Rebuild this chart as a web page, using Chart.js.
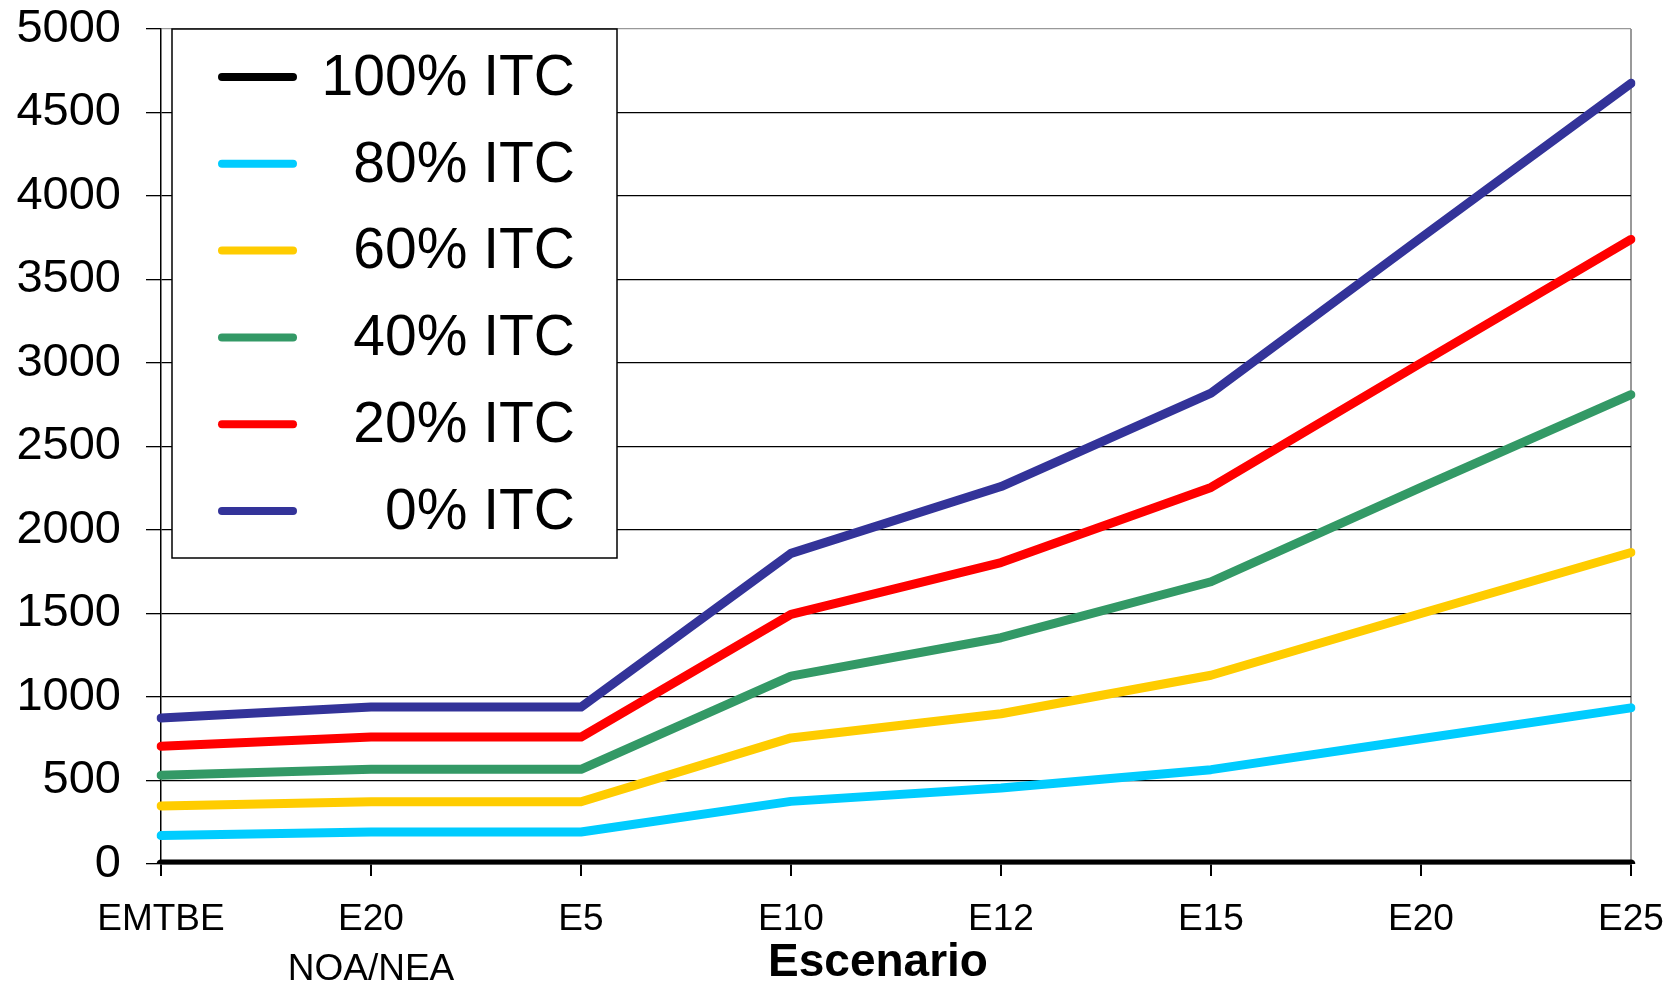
<!DOCTYPE html>
<html lang="es">
<head>
    <meta charset="UTF-8">
    <title>Escenario ITC</title>
    <script src="https://cdn.jsdelivr.net/npm/chart.js"></script>
    <style>
        html, body {margin: 0; padding: 0; background: #fff;}
        #wrap {width: 1668px; height: 985px;}
    </style>
</head>
<body>
    <div id="wrap">
        <canvas id="itc_canvas"></canvas>
    </div>
    <script>
        // Escenarios en el eje X
        const escenarios = ['EMTBE', ['E20', 'NOA/NEA'], 'E5', 'E10', 'E12', 'E15', 'E20', 'E25'];

        // Series por porcentaje de ITC
        const itc100 = [0, 0, 0, 0, 0, 0, 0, 0];
        const itc80 = [170, 192, 192, 375, 455, 565, 750, 935];
        const itc60 = [348, 373, 373, 755, 900, 1130, 1500, 1865];
        const itc40 = [531, 567, 567, 1125, 1355, 1690, 2255, 2810];
        const itc20 = [705, 760, 760, 1495, 1805, 2255, 3000, 3740];
        const itc0 = [874, 940, 940, 1860, 2260, 2820, 3750, 4675];

        const etiquetas = ['100% ITC', '80% ITC', '60% ITC', '40% ITC', '20% ITC', '0% ITC'];
        const colores = ['#000000', '#00CCFF', '#FFCC00', '#339966', '#FF0000', '#333399'];
        const tituloX = 'Escenario';

        const fuente = "'Liberation Sans', Arial, sans-serif";

        // Leyenda dibujada dentro del area del grafico, texto alineado a la derecha
        const leyendaInterna = {
            id: 'leyendaInterna',
            afterDraw(chart) {
                const ctx = chart.ctx;
                const area = chart.chartArea;
                const x0 = area.left + 11;
                const y0 = area.top;
                const w = 445;
                const h = 529;
                ctx.save();
                ctx.fillStyle = '#ffffff';
                ctx.fillRect(x0, y0, w, h);
                ctx.strokeStyle = '#000000';
                ctx.lineWidth = 1.5;
                ctx.strokeRect(x0, y0, w, h);
                ctx.font = '57px ' + fuente;
                ctx.textAlign = 'right';
                ctx.textBaseline = 'middle';
                ctx.lineCap = 'round';
                chart.data.datasets.forEach((ds, i) => {
                    const y = y0 + 48 + i * 86.8;
                    ctx.strokeStyle = ds.borderColor;
                    ctx.lineWidth = 8;
                    ctx.beginPath();
                    ctx.moveTo(x0 + 50, y);
                    ctx.lineTo(x0 + 121, y);
                    ctx.stroke();
                    ctx.fillStyle = '#000000';
                    ctx.fillText(ds.label, x0 + 403, y + 2);
                });
                ctx.restore();
            }
        };

        // Titulo del eje X, un poco a la izquierda del centro
        const tituloEje = {
            id: 'tituloEje',
            afterDraw(chart) {
                const ctx = chart.ctx;
                const area = chart.chartArea;
                ctx.save();
                ctx.font = 'bold 46px ' + fuente;
                ctx.fillStyle = '#000000';
                ctx.textAlign = 'center';
                ctx.textBaseline = 'middle';
                ctx.fillText(tituloX, (area.left + area.right) / 2 - 18, chart.height - 22);
                ctx.restore();
            }
        };

        const series = [itc100, itc80, itc60, itc40, itc20, itc0];

        new Chart(document.getElementById('itc_canvas'), {
            type: 'line',
            data: {
                labels: escenarios,
                datasets: series.map((valores, i) => ({
                    label: etiquetas[i],
                    data: valores,
                    borderColor: colores[i],
                    backgroundColor: colores[i],
                    borderWidth: 9,
                    pointRadius: 0,
                    tension: 0,
                    borderCapStyle: 'round',
                    borderJoinStyle: 'round',
                    fill: false
                }))
            },
            options: {
                responsive: true,
                maintainAspectRatio: false,
                animation: false,
                layout: {padding: {top: 29, right: 37, left: 0, bottom: 0}},
                plugins: {
                    legend: {display: false},
                    tooltip: {enabled: false}
                },
                scales: {
                    x: {
                        offset: false,
                        afterFit: (scale) => {
                            scale.height = 121;
                            scale.paddingLeft = 0;
                            scale.paddingRight = 0;
                        },
                        border: {display: true, color: '#000000', width: 1.5},
                        grid: {
                            drawOnChartArea: true,
                            color: (c) => c.index === escenarios.length - 1 ? '#999999' : 'rgba(0,0,0,0)',
                            tickColor: '#000000',
                            tickLength: 12,
                            lineWidth: 2
                        },
                        ticks: {
                            color: '#000000',
                            padding: 19,
                            maxRotation: 0,
                            autoSkip: false,
                            font: {family: fuente, size: 37, lineHeight: 1.35}
                        }
                    },
                    y: {
                        min: 0,
                        max: 5000,
                        afterFit: (scale) => {
                            scale.width = 161;
                            scale.paddingTop = 0;
                            scale.paddingBottom = 0;
                        },
                        border: {display: true, color: '#000000', width: 1.5},
                        grid: {
                            color: (c) => c.tick && c.tick.value === 5000 ? '#999999' : '#000000',
                            tickColor: '#000000',
                            tickLength: 15,
                            lineWidth: 1.3
                        },
                        ticks: {
                            stepSize: 500,
                            color: '#000000',
                            padding: 25,
                            font: {family: fuente, size: 47},
                            callback: (v) => String(v)
                        }
                    }
                }
            },
            plugins: [leyendaInterna, tituloEje]
        });
    </script>
</body>
</html>
